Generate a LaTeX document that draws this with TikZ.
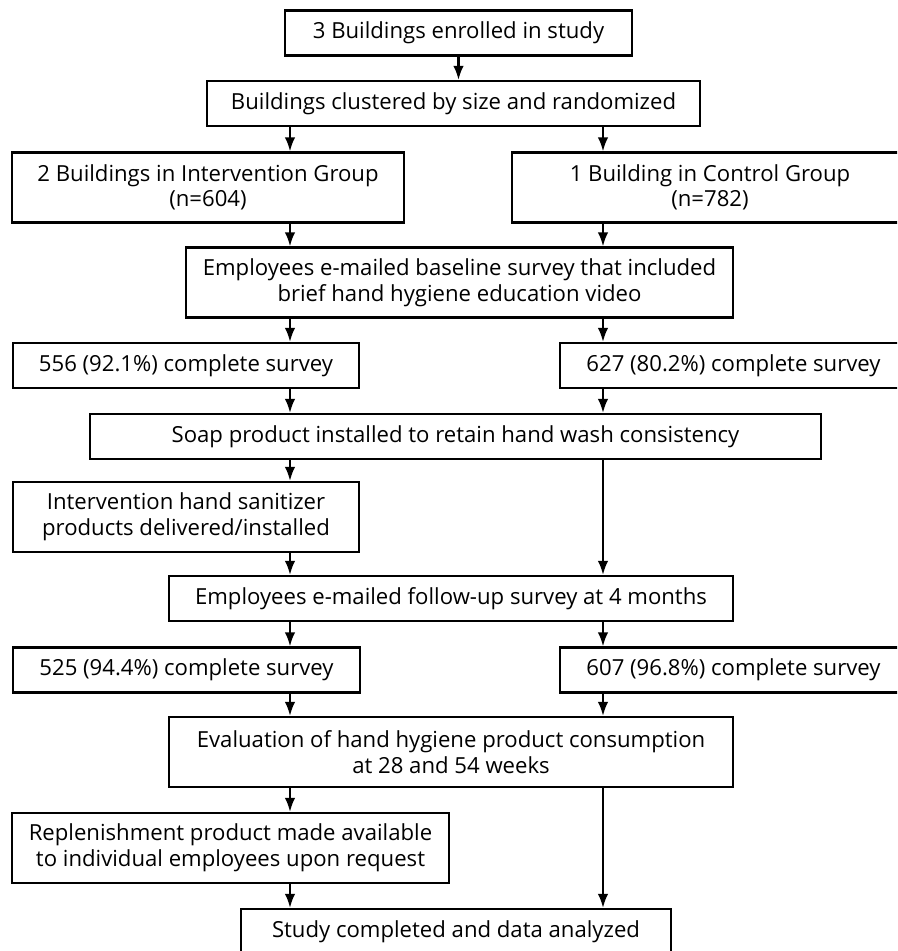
\documentclass[tikz,border=0pt]{standalone}
\usepackage{fontspec}
\setmainfont{Open Sans}
\usetikzlibrary{arrows.meta}
\begin{document}
\begin{tikzpicture}[%
    x=0.02cm, y=-0.02cm,
    box/.style={draw,line width=1.3pt,inner sep=0pt,align=center,font=\fontsize{12.6}{14.6}\selectfont},
    one/.style={box,minimum height=0.9cm},
    two/.style={box,minimum height=1.4cm},
    arr/.style={-{Latex[length=8pt,width=6pt]},line width=1.2pt}
  ]
		\clip (0,0) rectangle (897,951);

		\coordinate (lc) at (290,0);
		\coordinate (rc) at (603,0);

		\node at (458.5,33) [one,minimum width=6.94cm] (b1) {3 Buildings enrolled in study};
		\node at (453.5,103.5) [one,minimum width=9.86cm] (b2) {Buildings clustered by size and randomized};

		\node at (208,187.5) [two,minimum width=7.84cm] (b3l) {2 Buildings in Intervention Group\\(n=604)};
		\node at (710,187.5) [two,minimum width=7.92cm] (b3r) {1 Building in Control Group\\(n=782)};

		\node at (459.5,282.5) [two,minimum width=10.94cm] (b4) {Employees e-mailed baseline survey that included\\brief hand hygiene education video};

		\node at (186,365.5) [one,minimum width=6.92cm] (b5l) {556 (92.1\%) complete survey};
		\node at (733.5,365.5) [one,minimum width=6.94cm] (b5r) {627 (80.2\%) complete survey};

		\node at (455.5,436.5) [one,minimum width=14.62cm] (b6) {Soap product installed to retain hand wash consistency};

		\node at (186,517) [two,minimum width=6.92cm] (b7) {Intervention hand sanitizer\\products delivered/installed};

		\node at (451,598.5) [one,minimum width=11.28cm] (b8) {Employees e-mailed follow-up survey at 4 months};

		\node at (186.5,670) [one,minimum width=6.94cm] (b9l) {525 (94.4\%) complete survey};
		\node at (733.5,670) [one,minimum width=6.94cm] (b9r) {607 (96.8\%) complete survey};

		\node at (451,752) [two,minimum width=11.28cm] (b10) {Evaluation of hand hygiene product consumption\\at 28 and 54 weeks};

		\node at (230.5,848) [two,minimum width=8.74cm] (b11) {Replenishment product made available\\to individual employees upon request};

		\node at (456,931.5) [one,minimum width=8.6cm] (b12) {Study completed and data analyzed};

		\draw[arr] (b1) -- (b1 |- b2.north);
		\draw[arr] (b2.south -| lc) -- (b3l.north -| lc);
		\draw[arr] (b2.south -| rc) -- (b3r.north -| rc);
		\draw[arr] (b3l.south -| lc) -- (b4.north -| lc);
		\draw[arr] (b3r.south -| rc) -- (b4.north -| rc);
		\draw[arr] (b4.south -| lc) -- (b5l.north -| lc);
		\draw[arr] (b4.south -| rc) -- (b5r.north -| rc);
		\draw[arr] (b5l.south -| lc) -- (b6.north -| lc);
		\draw[arr] (b5r.south -| rc) -- (b6.north -| rc);
		\draw[arr] (b6.south -| lc) -- (b7.north -| lc);
		\draw[arr] (b6.south -| rc) -- (b8.north -| rc);
		\draw[arr] (b7.south -| lc) -- (b8.north -| lc);
		\draw[arr] (b8.south -| lc) -- (b9l.north -| lc);
		\draw[arr] (b8.south -| rc) -- (b9r.north -| rc);
		\draw[arr] (b9l.south -| lc) -- (b10.north -| lc);
		\draw[arr] (b9r.south -| rc) -- (b10.north -| rc);
		\draw[arr] (b10.south -| lc) -- (b11.north -| lc);
		\draw[arr] (b10.south -| rc) -- (b12.north -| rc);
		\draw[arr] (b11.south -| lc) -- (b12.north -| lc);
	\end{tikzpicture}
\end{document}
